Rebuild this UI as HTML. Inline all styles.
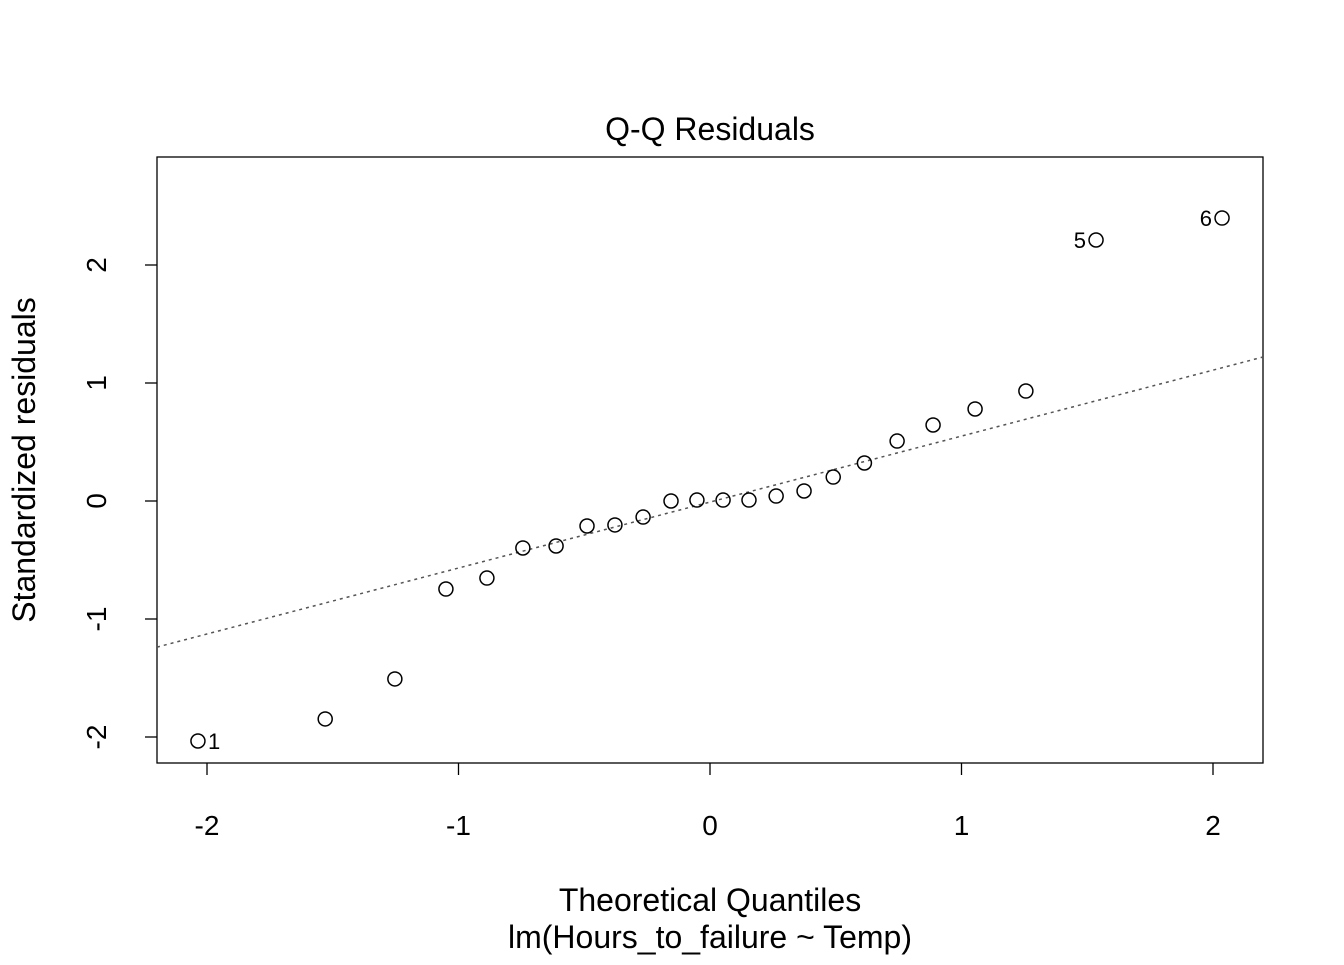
<!DOCTYPE html>
<html><head><meta charset="utf-8"><style>
html,body{margin:0;padding:0;background:#fff;}
svg text{font-family:"Liberation Sans",Arial,sans-serif;fill:#000;}
</style></head><body>
<svg id="chart" width="1344" height="960" xmlns="http://www.w3.org/2000/svg">
<g id="g"></g>
</svg>
<script>
const theoretical = [-2.036,-1.53,-1.253,-1.05,-0.887,-0.744,-0.612,-0.489,-0.378,-0.266,-0.155,-0.052,0.052,0.155,0.263,0.374,0.49,0.614,0.744,0.887,1.054,1.256,1.535,2.036];
const residuals = [-2.034,-1.847,-1.508,-0.746,-0.653,-0.398,-0.381,-0.212,-0.203,-0.136,0,0.008,0.008,0.008,0.042,0.085,0.203,0.322,0.508,0.644,0.78,0.932,2.212,2.398];
const pointLabels = ["1","","","","","","","","","","","","","","","","","","","","","","5","6"];
const xTicks = [-2,-1,0,1,2];
const yTicks = [-2,-1,0,1,2];
const lineSlope = 0.559, lineIntercept = -0.009;

const L=157,R=1263,T=157,B=763;
const xs=v=>710+v*251.5;
const ys=v=>501-v*118;
const NS="http://www.w3.org/2000/svg";
const g=document.getElementById('g');
function mk(tag,attrs,txt){const e=document.createElementNS(NS,tag);for(const k in attrs)e.setAttribute(k,attrs[k]);if(txt!==undefined)e.textContent=txt;g.appendChild(e);return e;}

let e=mk('rect',{x:L,y:T,width:R-L,height:B-T,fill:'none',stroke:'#000','stroke-width':1.3});



e=mk('line',{x1:L,y1:ys(lineIntercept+lineSlope*((L-710)/251.5)),x2:R,y2:ys(lineIntercept+lineSlope*((R-710)/251.5)),stroke:'#555','stroke-width':1.5,'stroke-dasharray':'3,4'});



xTicks.forEach(t=>{
  e=mk('line',{x1:xs(t),y1:B,x2:xs(t),y2:B+12,stroke:'#000','stroke-width':1.3});
  
  
  e=mk('text',{x:xs(t),y:835,'font-size':28,'text-anchor':'middle'},String(t));
  
  
});
yTicks.forEach(t=>{
  e=mk('line',{x1:L-12,y1:ys(t),x2:L,y2:ys(t),stroke:'#000','stroke-width':1.3});
  
  
  e=mk('text',{x:0,y:0,'font-size':28,'text-anchor':'middle',transform:`translate(106,${ys(t)}) rotate(-90)`},String(t));
  
  
});
theoretical.forEach((v,i)=>{
  e=mk('circle',{cx:xs(v),cy:ys(residuals[i]),r:7,fill:'none',stroke:'#000','stroke-width':1.5});
  
  
  if(pointLabels[i]){
    const left=v>0;
    e=mk('text',{x:xs(v)+(left?-10:10),y:ys(residuals[i])+8,'font-size':22,'text-anchor':left?'end':'start'},pointLabels[i]);
    
    
  }
});
e=mk('text',{x:710,y:140,'font-size':32,'text-anchor':'middle'},'Q-Q Residuals');


e=mk('text',{x:710,y:911,'font-size':32,'text-anchor':'middle'},'Theoretical Quantiles');


e=mk('text',{x:710,y:948,'font-size':32,'text-anchor':'middle'},'lm(Hours_to_failure ~ Temp)');


e=mk('text',{x:0,y:0,'font-size':32,'text-anchor':'middle',transform:'translate(35,460) rotate(-90)'},'Standardized residuals');


</script>
</body></html>
